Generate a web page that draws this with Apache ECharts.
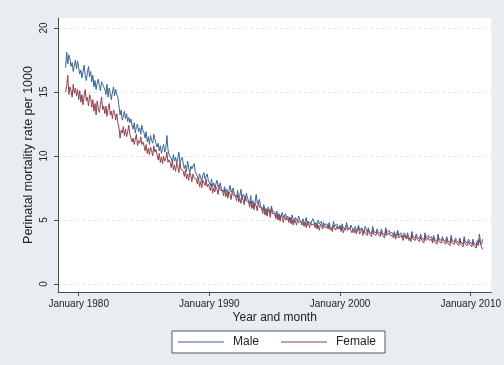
<!DOCTYPE html>
<html>
<head>
<meta charset="utf-8">
<script src="https://cdn.jsdelivr.net/npm/echarts@6/dist/echarts.min.js"></script>
<style>
  html, body { margin: 0; padding: 0; background: #e7edf0; }
  #chart { width: 504px; height: 365px; }
</style>
</head>
<body>
<div id="chart"></div>
<script>
// Monthly perinatal mortality rate per 1000 births, January 1979 onwards (one row per year)
const startYear = 1979;
const male = [
  16.9, 18.1, 17.2, 17.9, 17.6, 17.0, 17.3, 16.6, 17.1, 17.5, 16.8, 17.4,
  16.9, 16.4, 16.7, 16.1, 16.6, 17.1, 16.3, 15.9, 16.5, 17.0, 16.2, 16.6,
  15.8, 16.3, 15.4, 15.9, 15.2, 15.7, 16.0, 15.5, 15.1, 15.8, 15.6, 15.4,
  15.2, 14.8, 15.6, 14.6, 15.3, 14.9, 14.4, 15.0, 15.4, 14.7, 15.2, 14.8,
  14.6, 13.9, 13.2, 13.6, 12.8, 13.1, 13.5, 12.9, 13.3, 12.7, 13.0, 12.6,
  12.9, 12.4, 12.1, 12.6, 11.8, 12.3, 12.5, 11.9, 12.2, 11.7, 12.4, 12.0,
  11.8, 11.4, 11.9, 11.1, 11.5, 10.9, 11.6, 11.2, 11.0, 11.7, 11.3, 11.0,
  10.7, 11.0, 10.4, 10.8, 10.2, 10.6, 10.9, 10.3, 10.6, 11.6, 10.5, 10.1,
  10.2, 9.8, 9.5, 10.1, 9.6, 9.9, 9.4, 9.8, 10.3, 9.5, 9.7, 9.9,
  9.4, 9.0, 9.3, 8.8, 9.6, 9.1, 8.7, 9.2, 9.0, 8.9, 9.4, 8.8,
  8.7, 8.4, 8.1, 8.6, 8.3, 8.0, 8.5, 8.7, 8.2, 8.3, 8.6, 8.1,
  8.0, 7.7, 8.2, 7.6, 7.9, 7.5, 7.8, 8.1, 7.6, 7.7, 7.9, 7.4,
  7.5, 7.2, 7.6, 7.1, 7.4, 7.0, 7.3, 7.7, 7.2, 7.1, 7.5, 7.0,
  7.1, 6.8, 7.3, 6.7, 6.9, 7.4, 6.6, 7.0, 6.8, 6.5, 7.1, 6.7,
  6.6, 6.3, 6.9, 6.2, 6.5, 6.0, 6.4, 7.0, 6.3, 6.2, 6.6, 6.1,
  6.1, 5.8, 6.2, 5.7, 5.9, 5.6, 6.0, 5.8, 5.5, 6.1, 5.7, 5.6,
  5.6, 5.3, 5.7, 5.2, 5.5, 5.1, 5.4, 5.6, 5.2, 5.3, 5.5, 5.1,
  5.3, 5.0, 5.2, 4.9, 5.4, 5.0, 4.8, 5.2, 5.1, 4.9, 5.3, 5.0,
  5.0, 4.8, 5.1, 4.7, 4.9, 5.2, 4.6, 4.9, 5.0, 4.7, 4.8, 5.1,
  4.9, 4.6, 4.8, 4.5, 5.0, 4.7, 4.6, 4.9, 4.5, 4.8, 4.6, 4.7,
  4.7, 4.4, 4.8, 4.5, 4.6, 4.3, 4.9, 4.5, 4.4, 4.7, 4.6, 4.3,
  4.6, 4.3, 4.7, 4.4, 4.5, 4.2, 4.8, 4.4, 4.5, 4.3, 4.6, 4.4,
  4.4, 4.2, 4.5, 4.1, 4.3, 4.6, 4.2, 4.1, 4.4, 4.3, 4.0, 4.5,
  4.3, 4.0, 4.4, 4.1, 4.2, 3.9, 4.5, 4.1, 4.2, 4.0, 4.3, 4.1,
  4.2, 3.9, 4.3, 4.0, 4.1, 3.8, 4.4, 4.0, 3.9, 4.2, 4.0, 3.9,
  4.0, 3.8, 4.1, 3.7, 3.9, 4.2, 3.8, 3.7, 4.0, 3.9, 3.6, 4.0,
  3.9, 3.6, 4.0, 3.7, 3.8, 3.5, 4.1, 3.7, 3.8, 3.6, 3.9, 3.7,
  3.8, 3.5, 3.9, 3.6, 3.7, 3.4, 4.0, 3.6, 3.5, 3.8, 3.6, 3.7,
  3.7, 3.4, 3.8, 3.5, 3.6, 3.3, 3.9, 3.5, 3.6, 3.4, 3.7, 3.5,
  3.6, 3.3, 3.7, 3.4, 3.5, 3.2, 3.8, 3.4, 3.5, 3.3, 3.6, 3.4,
  3.5, 3.2, 3.6, 3.3, 3.4, 3.1, 3.7, 3.3, 3.4, 3.2, 3.5, 3.3,
  3.4, 3.1, 3.5, 3.2, 3.3, 3.0, 3.4, 3.2, 3.9, 3.3, 3.1, 3.5
];
const female = [
  15.0, 15.5, 16.3, 14.8, 15.4, 15.1, 14.6, 15.6, 14.9, 15.3, 14.7, 15.2,
  14.4, 15.1, 14.2, 14.8, 14.0, 14.7, 15.2, 14.3, 14.6, 13.9, 14.8, 14.5,
  13.8, 14.4, 13.5, 14.1, 13.2, 14.3, 13.7, 13.4, 14.0, 14.6, 13.6, 13.9,
  13.3, 13.9, 13.1, 13.7, 14.1, 13.2, 13.5, 12.9, 13.6, 13.4, 12.8, 13.3,
  12.6, 12.2, 11.4, 12.0, 11.8, 12.3, 11.6, 12.1, 11.5, 11.9, 12.4, 11.7,
  11.6, 11.1, 11.4, 10.9, 11.3, 11.7, 10.8, 11.2, 11.0, 11.5, 10.9, 11.1,
  10.8, 10.4, 10.9, 10.2, 10.6, 10.1, 10.7, 10.4, 10.0, 10.8, 10.3, 10.5,
  10.1, 9.7, 10.2, 9.5, 9.9, 9.4, 10.0, 9.6, 9.8, 10.3, 9.5, 9.7,
  9.5, 9.1, 9.6, 8.9, 9.3, 8.8, 9.4, 9.2, 8.7, 9.5, 9.0, 9.1,
  8.8, 8.4, 8.9, 8.2, 8.6, 8.1, 8.7, 8.5, 8.0, 8.6, 8.3, 8.4,
  8.2, 7.8, 8.3, 7.6, 8.0, 7.5, 8.1, 7.9, 7.7, 8.2, 7.6, 7.8,
  7.7, 7.3, 7.8, 7.1, 7.5, 7.2, 7.6, 7.4, 7.0, 7.7, 7.3, 7.2,
  7.3, 6.9, 7.4, 6.8, 7.1, 6.7, 7.2, 7.0, 6.6, 7.3, 6.9, 6.8,
  6.9, 6.5, 7.0, 6.4, 6.7, 6.3, 6.8, 6.6, 6.2, 6.9, 6.5, 6.4,
  6.4, 6.0, 6.5, 5.9, 6.2, 5.8, 6.3, 6.1, 5.7, 6.4, 6.0, 5.9,
  5.9, 5.5, 6.0, 5.4, 5.7, 5.3, 5.8, 5.6, 5.2, 5.9, 5.5, 5.4,
  5.5, 5.1, 5.4, 5.0, 5.3, 4.9, 5.4, 5.2, 4.8, 5.3, 5.0, 5.1,
  5.1, 4.8, 5.2, 4.7, 5.0, 4.6, 5.1, 4.9, 4.6, 5.0, 4.8, 4.7,
  4.9, 4.6, 4.8, 4.5, 4.8, 4.4, 4.9, 4.7, 4.4, 4.8, 4.6, 4.5,
  4.7, 4.4, 4.6, 4.3, 4.6, 4.2, 4.7, 4.5, 4.3, 4.6, 4.4, 4.4,
  4.5, 4.3, 4.6, 4.2, 4.4, 4.1, 4.6, 4.4, 4.2, 4.5, 4.3, 4.2,
  4.4, 4.1, 4.5, 4.0, 4.3, 4.2, 4.6, 4.2, 4.1, 4.4, 4.2, 4.0,
  4.3, 4.0, 4.2, 3.9, 4.2, 4.4, 3.9, 4.1, 4.3, 3.8, 4.2, 4.0,
  4.1, 3.8, 4.2, 3.9, 4.0, 3.7, 4.3, 3.9, 4.0, 3.8, 4.1, 3.9,
  4.0, 3.7, 4.1, 3.8, 3.9, 3.6, 4.2, 3.8, 3.7, 4.0, 3.8, 3.9,
  3.8, 3.6, 3.9, 3.5, 3.7, 4.0, 3.6, 3.5, 3.8, 3.7, 3.4, 3.8,
  3.7, 3.5, 3.8, 3.4, 3.6, 3.3, 3.9, 3.5, 3.6, 3.4, 3.7, 3.5,
  3.6, 3.3, 3.7, 3.4, 3.5, 3.2, 3.8, 3.4, 3.3, 3.6, 3.4, 3.5,
  3.5, 3.2, 3.6, 3.3, 3.4, 3.1, 3.7, 3.3, 3.4, 3.2, 3.5, 3.3,
  3.4, 3.1, 3.5, 3.2, 3.3, 3.0, 3.6, 3.2, 3.3, 3.1, 3.4, 3.2,
  3.3, 3.0, 3.4, 3.1, 3.2, 2.9, 3.5, 3.1, 3.2, 3.0, 3.3, 3.1,
  3.2, 2.9, 3.3, 3.0, 3.1, 2.8, 3.2, 3.0, 3.5, 3.1, 2.9, 2.7
];
const xTickYears = [1980, 1990, 2000, 2010];
const yTicks = [0, 5, 10, 15, 20];

// month index -> decimal year on the time axis
const toSeries = vals => vals.map((v, i) => [startYear + i / 12, v]);

const FONT = '"Liberation Sans", Arial, sans-serif';
const AXIS_COLOR = '#4a4a4a';
const MALE_COLOR = '#3a6592';
const FEMALE_COLOR = '#93404f';

const chart = echarts.init(document.getElementById('chart'), null, { renderer: 'canvas' });
chart.setOption({
  backgroundColor: '#e7edf0',
  animation: false,
  textStyle: { fontFamily: FONT },
  grid: {
    left: 58, right: 6, top: 18, bottom: 73,
    show: true, backgroundColor: '#ffffff', borderWidth: 0
  },
  xAxis: {
    type: 'value',
    min: 1978.417, max: 2011.583,
    name: 'Year and month',
    nameLocation: 'middle',
    nameGap: 20,
    nameMoveOverlap: false,
    nameTextStyle: { fontSize: 12, color: '#222', fontFamily: FONT },
    axisLine: { show: true, onZero: false, lineStyle: { color: AXIS_COLOR, width: 1 } },
    axisTick: { show: true, length: 4, lineStyle: { color: AXIS_COLOR }, customValues: xTickYears },
    axisLabel: {
      customValues: xTickYears, fontSize: 10, color: '#222', margin: 7,
      formatter: v => 'January ' + v
    },
    splitLine: { show: false }
  },
  yAxis: {
    type: 'value',
    min: -0.625, max: 20.78,
    name: 'Perinatal mortality rate per 1000',
    nameLocation: 'middle',
    nameGap: 23,
    nameMoveOverlap: false,
    nameTextStyle: { fontSize: 12.5, color: '#222', fontFamily: FONT },
    axisLine: { show: true, lineStyle: { color: AXIS_COLOR, width: 1 } },
    axisTick: { show: true, length: 4, lineStyle: { color: AXIS_COLOR }, customValues: yTicks },
    axisLabel: { customValues: yTicks, rotate: 90, fontSize: 10, color: '#222', margin: 9 },
    splitLine: { show: true, lineStyle: { color: '#e2e6e8', type: [3, 3], width: 1 } }
  },
  legend: {
    left: 172, top: 331,
    padding: [5, 9, 5, 6],
    backgroundColor: '#ffffff',
    borderColor: '#555555', borderWidth: 1, borderRadius: 0,
    icon: 'rect',
    itemWidth: 46, itemHeight: 1, itemGap: 22,
    textStyle: { fontSize: 12, color: '#222', fontFamily: FONT, padding: [0, 0, 0, 4], lineHeight: 12 },
    data: ['Male', 'Female']
  },
  series: [
    {
      name: 'Male', type: 'line', data: toSeries(male),
      symbol: 'none', lineStyle: { color: MALE_COLOR, width: 1 }, itemStyle: { color: MALE_COLOR }
    },
    {
      name: 'Female', type: 'line', data: toSeries(female),
      symbol: 'none', lineStyle: { color: FEMALE_COLOR, width: 1 }, itemStyle: { color: FEMALE_COLOR }
    }
  ]
});
</script>
</body>
</html>
